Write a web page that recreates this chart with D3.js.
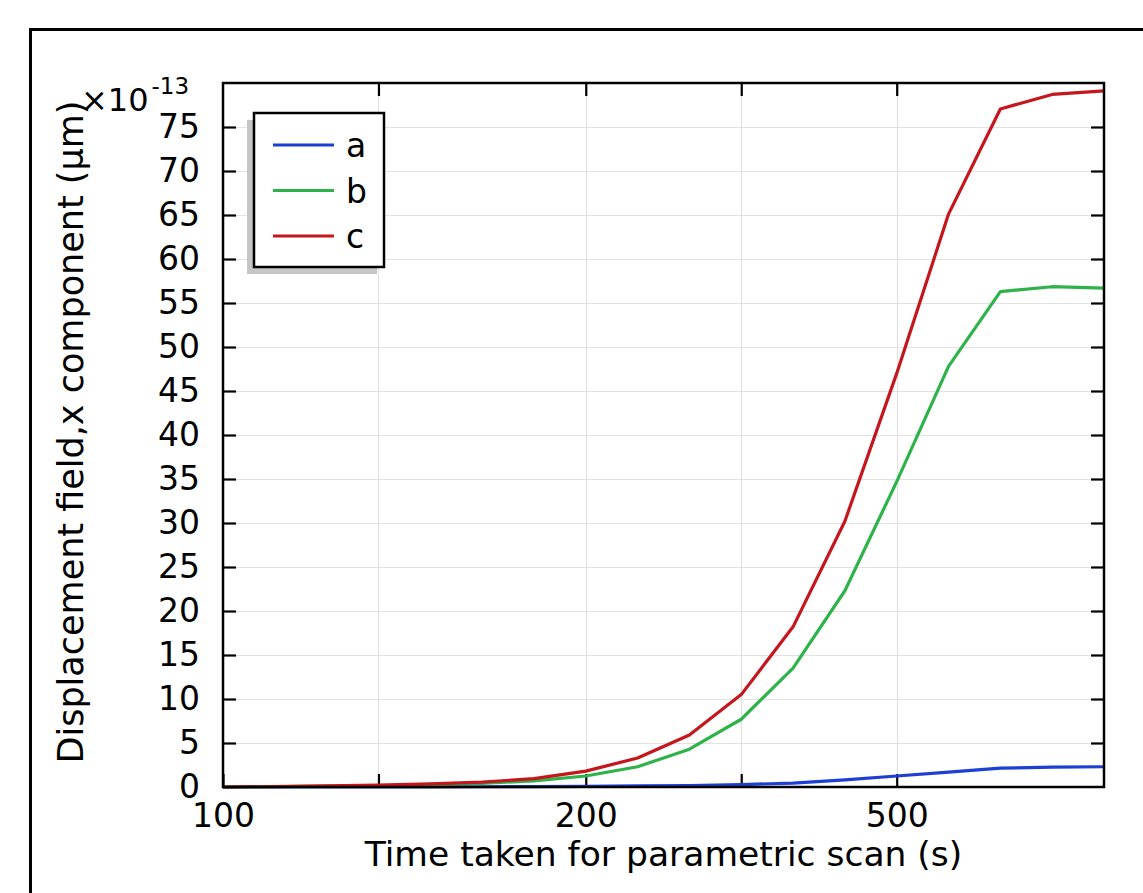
<!DOCTYPE html>
<html>
<head>
<meta charset="utf-8">
<script src="https://cdn.jsdelivr.net/npm/d3@7"></script>
<style>
    body { margin: 0; background: #ffffff; }
    svg { display: block; font-family: "DejaVu Sans", sans-serif; }
</style>
</head>
<body>
<svg id="chart"></svg>
<script>
// parameter steps along the x axis (evenly spaced sweep)
const steps = [0, 1, 2, 3, 4, 5, 6, 7, 8, 9, 10, 11, 12, 13, 14, 15, 16, 17];

// displacement values, in units of 1e-13 um
const seriesA = [0, 0, 0.01, 0.01, 0.02, 0.03, 0.05, 0.08, 0.12, 0.17, 0.27, 0.45, 0.8, 1.25, 1.7, 2.15, 2.25, 2.3];
const seriesB = [0, 0.04, 0.09, 0.16, 0.27, 0.42, 0.7, 1.25, 2.3, 4.3, 7.7, 13.5, 22.3, 34.7, 47.8, 56.3, 56.85, 56.7];
const seriesC = [0, 0.05, 0.12, 0.22, 0.35, 0.55, 0.95, 1.8, 3.3, 5.9, 10.5, 18.2, 30.2, 47.0, 65.1, 77.05, 78.7, 79.1];

const seriesNames = ['a', 'b', 'c'];
const seriesColors = ['#1c3fd4', '#2eb34a', '#c4161c'];

// tick positions and labels
const xTickSteps = [0, 3, 7, 10, 13];
const xTickLabels = ['100', '', '200', '', '500'];
const yTicks = [0, 5, 10, 15, 20, 25, 30, 35, 40, 45, 50, 55, 60, 65, 70, 75];

function drawChart() {
    const width = 1143;
    const height = 893;
    const plot = { left: 223, right: 1104, top: 83, bottom: 787 };

    const svg = d3.select('#chart')
        .attr('width', width)
        .attr('height', height);

    svg.append('rect')
        .attr('width', width)
        .attr('height', height)
        .attr('fill', '#ffffff');

    // outer frame (runs off the right and bottom edges)
    svg.append('rect')
        .attr('x', 30.5)
        .attr('y', 29.5)
        .attr('width', width + 20)
        .attr('height', height + 20)
        .attr('fill', 'none')
        .attr('stroke', '#000')
        .attr('stroke-width', 3);

    const x = d3.scaleLinear()
        .domain([0, 17])
        .range([plot.left, plot.right]);
    const y = d3.scaleLinear()
        .domain([0, 80])
        .range([plot.bottom, plot.top]);

    // grid lines
    svg.append('g')
        .selectAll('line')
        .data(yTicks.filter(d => d > 0))
        .enter().append('line')
        .attr('x1', plot.left)
        .attr('x2', plot.right)
        .attr('y1', d => Math.round(y(d)) + 0.5)
        .attr('y2', d => Math.round(y(d)) + 0.5)
        .attr('stroke', '#e2e2e2')
        .attr('stroke-width', 1.2);

    svg.append('g')
        .selectAll('line')
        .data(xTickSteps.filter(d => d > 0))
        .enter().append('line')
        .attr('x1', d => Math.round(x(d)) + 0.5)
        .attr('x2', d => Math.round(x(d)) + 0.5)
        .attr('y1', plot.top)
        .attr('y2', plot.bottom)
        .attr('stroke', '#e2e2e2')
        .attr('stroke-width', 1.2);

    // axes: ticks pointing inwards on all four sides
    const tickLen = 13;
    const styleAxis = g => {
        g.select('.domain').remove();
        g.selectAll('.tick line').attr('stroke', '#000').attr('stroke-width', 2.2);
        g.selectAll('.tick text')
            .attr('fill', '#000')
            .style('font-family', '"DejaVu Sans", sans-serif')
            .style('font-size', '33px');
    };

    svg.append('g')
        .attr('transform', `translate(0, ${plot.bottom})`)
        .call(d3.axisBottom(x)
            .tickValues(xTickSteps)
            .tickFormat((d, i) => xTickLabels[i])
            .tickSizeInner(-tickLen)
            .tickPadding(tickLen + 4))
        .call(styleAxis);

    svg.append('g')
        .attr('transform', `translate(0, ${plot.top})`)
        .call(d3.axisTop(x)
            .tickValues(xTickSteps.filter(d => d > 0))
            .tickFormat('')
            .tickSizeInner(-tickLen))
        .call(styleAxis);

    svg.append('g')
        .attr('transform', `translate(${plot.left}, 0)`)
        .call(d3.axisLeft(y)
            .tickValues(yTicks)
            .tickFormat(d3.format('d'))
            .tickSizeInner(-tickLen)
            .tickPadding(tickLen + 10))
        .call(styleAxis);

    svg.append('g')
        .attr('transform', `translate(${plot.right}, 0)`)
        .call(d3.axisRight(y)
            .tickValues(yTicks.filter(d => d > 0))
            .tickFormat('')
            .tickSizeInner(-tickLen))
        .call(styleAxis);

    // the series
    const allSeries = [seriesA, seriesB, seriesC];
    const line = d3.line()
        .x((d, i) => x(steps[i]))
        .y(d => y(d));

    svg.append('g')
        .selectAll('path')
        .data(allSeries)
        .enter().append('path')
        .attr('d', d => line(d))
        .attr('fill', 'none')
        .attr('stroke', (d, i) => seriesColors[i])
        .attr('stroke-width', 3.2)
        .attr('stroke-linejoin', 'round');

    // plot box
    svg.append('rect')
        .attr('x', plot.left)
        .attr('y', plot.top)
        .attr('width', plot.right - plot.left)
        .attr('height', plot.bottom - plot.top)
        .attr('fill', 'none')
        .attr('stroke', '#000')
        .attr('stroke-width', 2.5);

    // exponent label
    const expo = svg.append('text')
        .attr('x', 81)
        .attr('y', 111)
        .style('font-size', '32px');
    expo.append('tspan').text('×10');
    expo.append('tspan')
        .attr('dy', -17)
        .attr('dx', 3)
        .style('font-size', '23px')
        .text('-13');

    // legend with drop shadow
    const legend = { x: 254, y: 113, w: 130, h: 154 };
    svg.append('rect')
        .attr('x', legend.x - 7)
        .attr('y', legend.y + 7)
        .attr('width', legend.w)
        .attr('height', legend.h)
        .attr('fill', '#c6c6c6');
    svg.append('rect')
        .attr('x', legend.x)
        .attr('y', legend.y)
        .attr('width', legend.w)
        .attr('height', legend.h)
        .attr('fill', '#ffffff')
        .attr('stroke', '#000')
        .attr('stroke-width', 2.5);

    const items = svg.append('g')
        .selectAll('g')
        .data(seriesNames)
        .enter().append('g')
        .attr('transform', (d, i) => `translate(${legend.x}, ${legend.y + 32 + i * 45.5})`);
    items.append('line')
        .attr('x1', 19)
        .attr('x2', 80)
        .attr('stroke', (d, i) => seriesColors[i])
        .attr('stroke-width', 3);
    items.append('text')
        .attr('x', 92)
        .attr('y', 12)
        .style('font-size', '33px')
        .text(d => d);

    // axis titles
    svg.append('text')
        .text('Time taken for parametric scan (s)')
        .attr('x', (plot.left + plot.right) / 2)
        .attr('y', 866)
        .style('text-anchor', 'middle')
        .style('font-size', '34.5px');

    svg.append('text')
        .text('Displacement field,x component (μm)')
        .attr('x', -432)
        .attr('y', 83)
        .attr('transform', 'rotate(-90)')
        .style('text-anchor', 'middle')
        .style('font-size', '35px');
}

window.addEventListener('load', drawChart);
</script>
</body>
</html>
